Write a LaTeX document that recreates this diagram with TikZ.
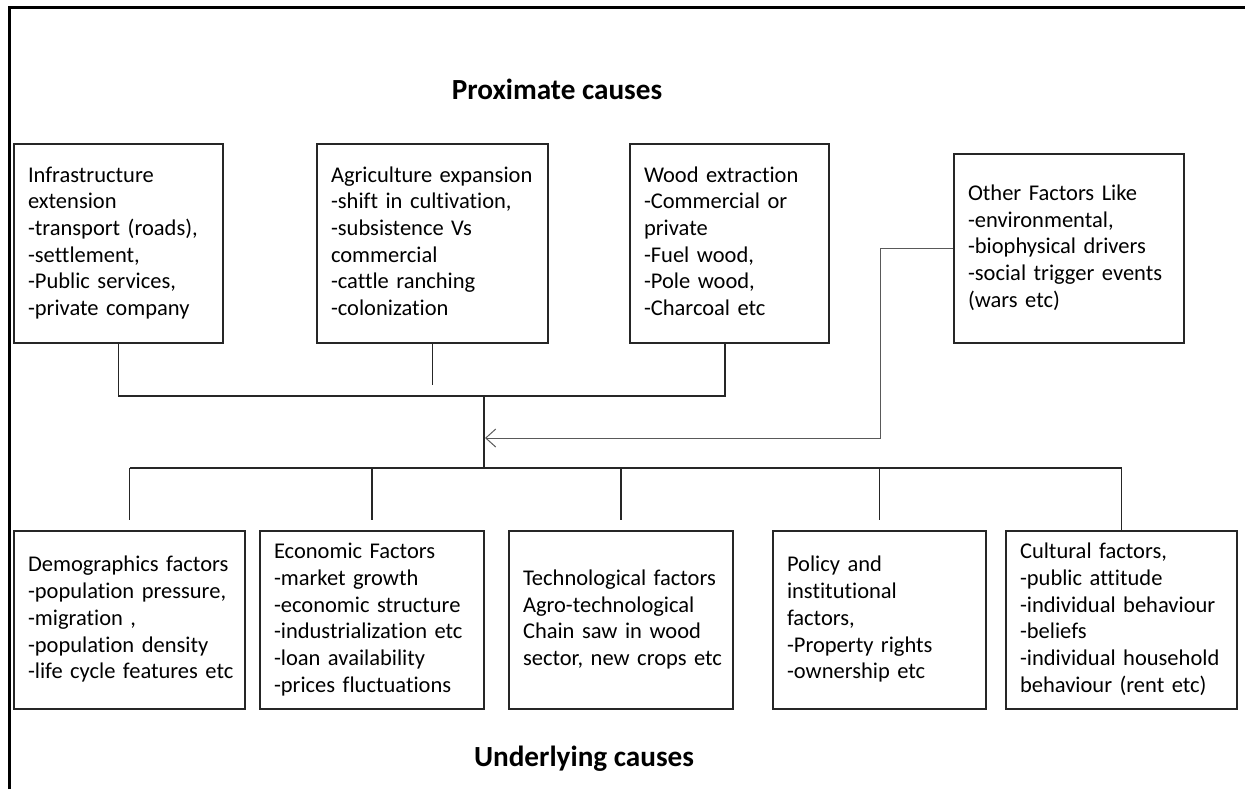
\documentclass[tikz,border=0pt]{standalone}
\usepackage{fontspec}
\setmainfont{Carlito}[Ligatures=CommonOff]
\usetikzlibrary{arrows.meta}
\newcommand{\boxlines}[1]{\begin{tabular}{@{}l@{}}#1\end{tabular}}
\tikzset{
  box/.style={draw=black!85, line width=1pt, rectangle, align=left, inner xsep=7pt, inner ysep=0pt,
    font=\fontsize{11.25}{13.35}\selectfont},
  title/.style={font=\fontsize{14.6}{17}\selectfont\bfseries, inner sep=0pt},
  conn/.style={draw=black!85, line width=0.9pt},
  feed/.style={draw=black!65, line width=0.5pt, -{Straight Barb[length=5pt,width=9pt,line width=0.5pt]}},
  frame/.style={draw=black, line width=1.5pt}
}
\begin{document}
\begin{tikzpicture}[x=0.5pt,y=-0.5pt]
\useasboundingbox (0,0) rectangle (1245,789);
% frame
\coordinate (fa) at (9,789);
\coordinate (fb) at (9,7);
\coordinate (fc) at (1245,7);
\draw[frame] (fa) -- (fb) -- (fc);
% titles
\node[title] (tp) at (557,89) {Proximate causes};
\node[title] (tu) at (584,759) {Underlying causes};
% top boxes
\node[box, text width=90.5pt, minimum height=99.5pt] (t1) at (118.5,243.5)
 {\boxlines{Infrastructure\\extension\\-transport (roads),\\-settlement,\\-Public services,\\-private company}};
\node[box, text width=101.5pt, minimum height=99.5pt] (t2) at (432.5,243.5)
 {\boxlines{Agriculture expansion\\-shift in cultivation,\\-subsistence Vs\\commercial\\-cattle ranching\\-colonization}};
\node[box, text width=85.5pt, minimum height=99.5pt] (t3) at (729.5,243.5)
 {\boxlines{Wood extraction\\-Commercial or\\private\\-Fuel wood,\\-Pole wood,\\-Charcoal etc}};
\node[box, text width=101pt, minimum height=94.5pt] (t4) at (1069,248.5)
 {\boxlines{Other Factors Like\\-environmental,\\-biophysical drivers\\-social trigger events\\(wars etc)}};
% bottom boxes
\node[box, text width=101.5pt, minimum height=89pt] (b1) at (129.5,620)
 {\boxlines{Demographics factors\\-population pressure,\\-migration ,\\-population density\\-life cycle features etc}};
\node[box, text width=98pt, minimum height=89pt] (b2) at (372,620)
 {\boxlines{Economic Factors\\-market growth\\-economic structure\\-industrialization etc\\-loan availability\\-prices fluctuations}};
\node[box, text width=98pt, minimum height=89pt] (b3) at (621,620)
 {\boxlines{Technological factors\\Agro-technological\\Chain saw in wood\\sector, new crops etc}};
\node[box, text width=92.5pt, minimum height=89pt] (b4) at (879.5,620)
 {\boxlines{Policy and\\institutional\\factors,\\-Property rights\\-ownership etc}};
\node[box, text width=101.5pt, minimum height=89pt] (b5) at (1121.5,620)
 {\boxlines{Cultural factors,\\-public attitude\\-individual behaviour\\-beliefs\\-individual household\\behaviour (rent etc)}};
% connectors top
\coordinate (hub) at (484,396);
\coordinate (hub2) at (484,468);
\coordinate (t3b) at (725,343);
\draw[conn] (t1.south) -- (t1.south |- hub) -- (t3b |- hub) -- (t3b);
\draw[conn] (t2.south) -- ++(0,41);
\draw[conn] (hub) -- (hub2);
% bottom bus
\draw[conn] (b1.north |- hub2) -- (b5.north |- hub2) -- (b5.north);
\foreach \b in {b1,b2,b3,b4}{
  \draw[conn] (\b.north |- hub2) -- ([yshift=5pt]\b.north);
}
% feedback arrow
\coordinate (bend) at (880,438);
\coordinate (ain) at (485,438);
\draw[feed] (t4.west) -| (bend) -- (ain);
\end{tikzpicture}
\end{document}
